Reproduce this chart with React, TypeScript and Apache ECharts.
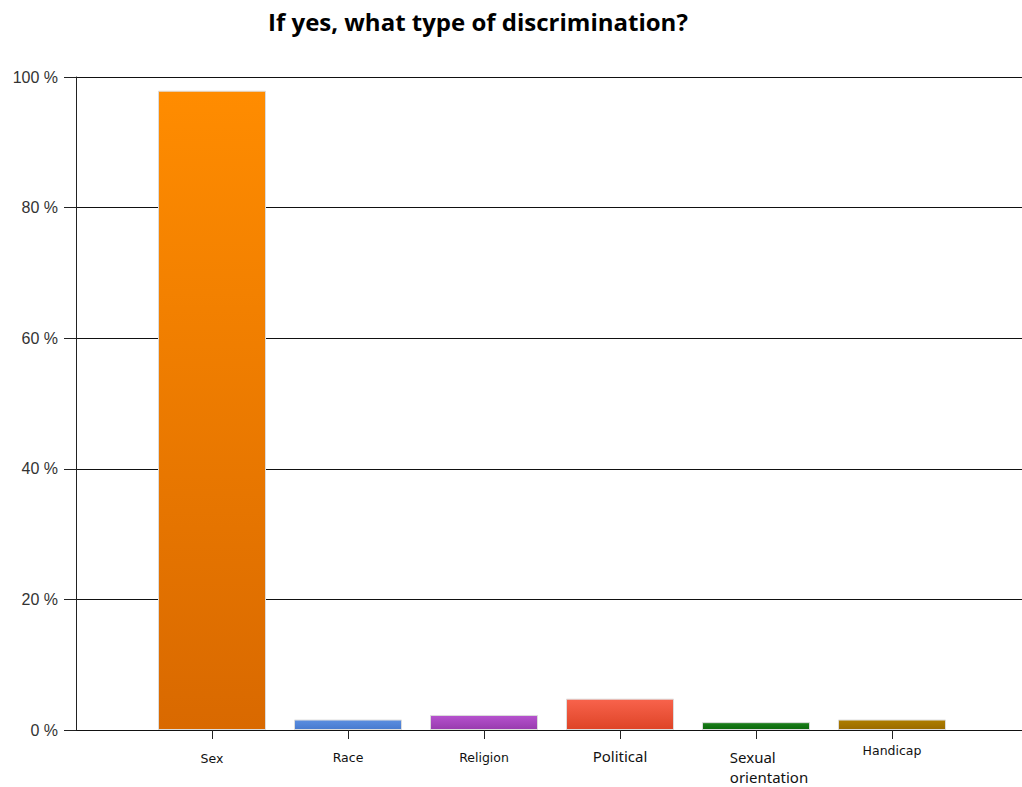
import React, { useEffect, useRef } from "react";
import * as echarts from "echarts";

const categories = ["Sex", "Race", "Religion", "Political", "Sexual orientation", "Handicap"];
const values = [97.9, 1.6, 2.3, 4.8, 1.2, 1.6];
const topColors = ["#FF8C00", "#5B8EE0", "#B652CE", "#F8634C", "#1B801B", "#AE7E00"];
const bottomColors = ["#D96900", "#477ACF", "#983BAE", "#DE4427", "#0A680A", "#9A6B00"];
const yTicks = [0, 20, 40, 60, 80, 100];

export default function App() {
  const ref = useRef<HTMLDivElement>(null);
  useEffect(() => {
    document.body.style.margin = "0";
    const chart = echarts.init(ref.current!, null, { renderer: "svg" });
    const data = values.map((v, i) => ({
      value: v,
      itemStyle: {
        color: new echarts.graphic.LinearGradient(0, 0, 0, 1, [
          { offset: 0, color: topColors[i] },
          { offset: 1, color: bottomColors[i] },
        ]),
        borderColor: "#dcdcdc",
        borderWidth: 1,
      },
    }));
    const styleKey = ["s", "r", "r", "p", "o", "h"];
    chart.setOption({
      animation: false,
      title: {
        text: "If yes, what type of discrimination?",
        left: 263,
        top: 4,
        textStyle: { fontFamily: "Open Sans", fontWeight: "bold", fontSize: 24, color: "#000" },
      },
      grid: [
        { left: 76, top: 77, right: 0, bottom: 57 },
        { left: 144, top: 77, width: 816, bottom: 57 },
      ],
      xAxis: [
        { type: "value", gridIndex: 0, show: false, min: 0, max: 1 },
        {
          type: "category",
          gridIndex: 1,
          data: categories,
          axisLine: { show: false },
          axisTick: { show: true, alignWithLabel: true, length: 9, lineStyle: { color: "#222" } },
          axisLabel: {
            margin: 17,
            interval: 0,
            formatter: (v: string) => {
              const i = categories.indexOf(v);
              const k = styleKey[i];
              if (k === "o") {
                const parts = v.split(" ");
                return `{o|${parts[0]}}\n{o|${parts[1]}}`;
              }
              return `{${k}|${v}}`;
            },
            rich: {
              s: { fontFamily: "DejaVu Sans", fontSize: 12.5, color: "#111", lineHeight: 22 },
              r: { fontFamily: "DejaVu Sans", fontSize: 12.5, color: "#111", lineHeight: 20 },
              p: { fontFamily: "Noto Sans", fontSize: 15, color: "#111", lineHeight: 18 },
              o: { fontFamily: "Noto Sans", fontSize: 15, color: "#111", lineHeight: 20, align: "left", padding: [0, 0, 0, 26] },
              h: { fontFamily: "DejaVu Sans", fontSize: 12.5, color: "#111", lineHeight: 6 },
            },
          },
        },
      ],
      yAxis: [
        {
          type: "value",
          gridIndex: 0,
          min: yTicks[0],
          max: yTicks[yTicks.length - 1],
          interval: 20,
          axisLine: { show: true, lineStyle: { color: "#222", width: 1 } },
          axisTick: { show: true, length: 12, lineStyle: { color: "#222" } },
          splitLine: { show: true, lineStyle: { color: "#111", width: 1 } },
          axisLabel: {
            formatter: "{value} %",
            margin: 18,
            fontFamily: "Liberation Sans",
            fontSize: 16,
            color: "#333",
          },
        },
        { type: "value", gridIndex: 1, min: 0, max: 100, show: false },
      ],
      series: [
        {
          type: "bar",
          xAxisIndex: 1,
          yAxisIndex: 1,
          barWidth: 108,
          data,
        },
      ],
    });
    return () => chart.dispose();
  }, []);
  return <div ref={ref} style={{ width: 1022, height: 787 }} />;
}
